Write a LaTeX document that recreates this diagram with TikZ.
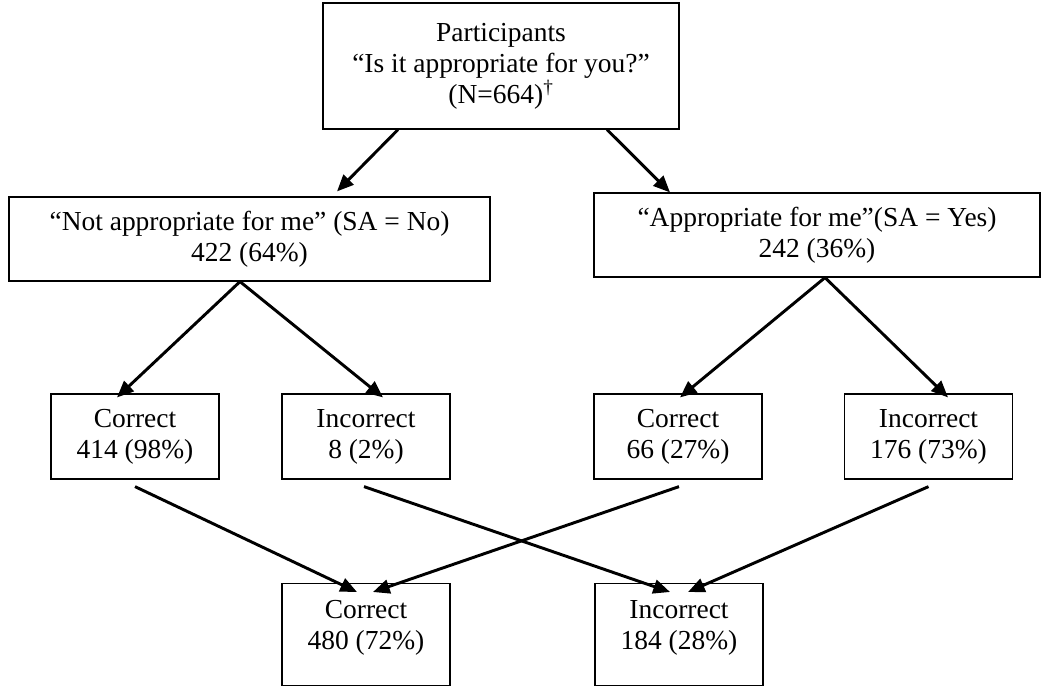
\documentclass[tikz,border=0pt]{standalone}
\usepackage{fontspec}
\setmainfont{Liberation Serif}
\usetikzlibrary{arrows.meta}
\begin{document}
\begin{tikzpicture}[x=0.75pt,y=-0.75pt,
		box/.style={draw,line width=0.9pt,align=center,inner sep=0pt,font=\fontsize{20.6}{23.3}\selectfont},
		smallbox/.style={box,minimum width=126pt,minimum height=63.75pt},
		lowbox/.style={box,anchor=north,minimum width=126pt,inner ysep=12pt,text depth=14pt,minimum height=76.5pt},
		arr/.style={line width=2.2pt,-{Triangle[length=12.5pt,width=10.5pt]}}]
		\useasboundingbox (0,0) rectangle (1045,687);
		\node[box,minimum width=267pt,minimum height=94.5pt] (part) at (501,66) {Participants\\“Is it appropriate for you?”\\(N=664)\textsuperscript{†}};
		\node[box,minimum width=360.75pt,minimum height=63pt] (notapp) at (249.5,239) {“Not appropriate for me” (SA = No)\\422 (64\%)};
		\node[box,minimum width=334.5pt,minimum height=63pt] (app) at (817,235) {“Appropriate for me”(SA = Yes)\\242 (36\%)};
		\node[smallbox] (cl) at (135,436.5) {Correct\\414 (98\%)};
		\node[smallbox] (il) at (366,436.5) {Incorrect\\8 (2\%)};
		\node[smallbox] (cr) at (678,436.5) {Correct\\66 (27\%)};
		\node[smallbox] (ir) at (928.5,436.5) {Incorrect\\176 (73\%)};
		\node[lowbox] (cb) at (366,583) {Correct\\480 (72\%)};
		\node[lowbox] (ib) at (679,583) {Incorrect\\184 (28\%)};
		\draw[arr] ([shift={(-103,0)}]part.south) -- ([shift={(87.5,-5)}]notapp.north);
		\draw[arr] ([shift={(106,0)}]part.south) -- ([shift={(-147,0)}]app.north);
		\draw[arr] ([shift={(-9.5,0)}]notapp.south) -- ([shift={(-18,4)}]cl.north);
		\draw[arr] ([shift={(-9.5,0)}]notapp.south) -- ([shift={(17,4)}]il.north);
		\draw[arr] ([shift={(8,0)}]app.south) -- ([shift={(2,4)}]cr.north);
		\draw[arr] ([shift={(8,0)}]app.south) -- ([shift={(19.5,4)}]ir.north);
		\draw[arr] ([shift={(0,7)}]cl.south) -- ([shift={(-9,9)}]cb.north);
		\draw[arr] ([shift={(-2,7)}]il.south) -- ([shift={(-9,9)}]ib.north);
		\draw[arr] ([shift={(1,7)}]cr.south) -- ([shift={(7,9)}]cb.north);
		\draw[arr] ([shift={(0,7)}]ir.south) -- ([shift={(9,9)}]ib.north);
	\end{tikzpicture}
\end{document}
